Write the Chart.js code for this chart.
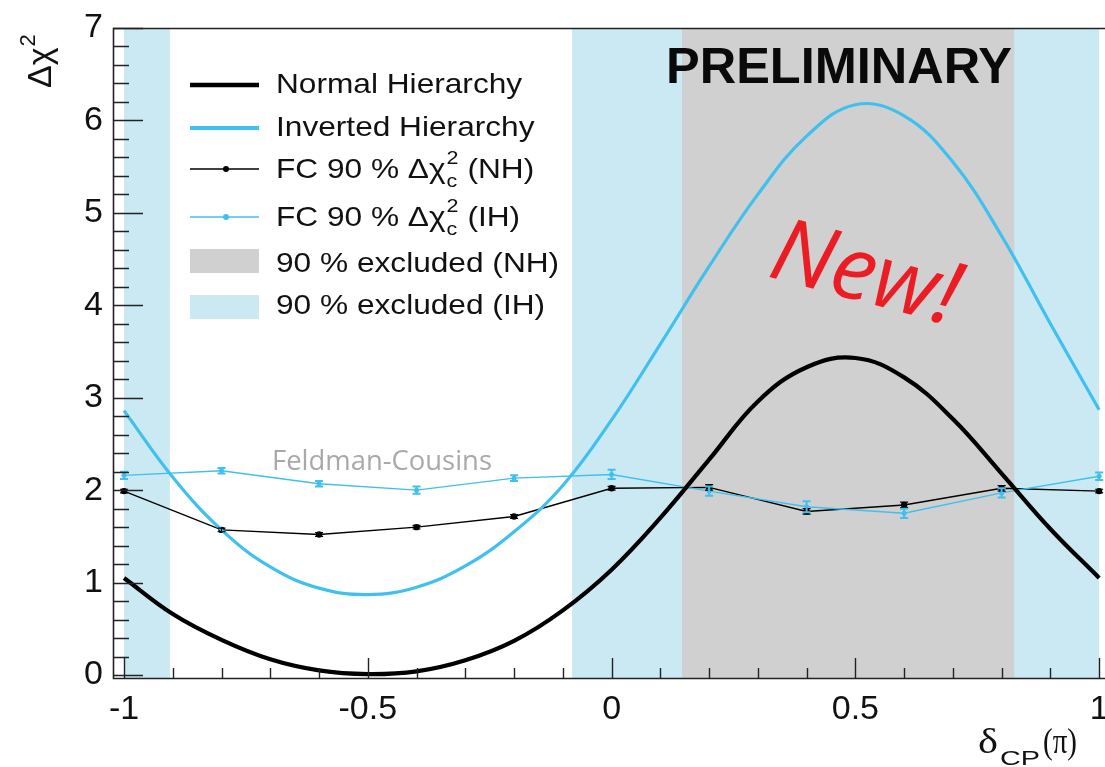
<!DOCTYPE html>
<html><head><meta charset="utf-8">
<script src="https://cdn.jsdelivr.net/npm/chart.js@4.4.1/dist/chart.umd.min.js"></script>
<style>html,body{margin:0;padding:0;background:#fff;overflow:hidden}#wrap{width:1105px;height:767px;position:relative}</style>
</head><body><div id="wrap"><canvas id="c" width="1105" height="767"></canvas></div>
<script>
// ---- data ----
const curveX  = [-1,-0.9,-0.8,-0.7,-0.6,-0.5,-0.4,-0.3,-0.2,-0.1,0,0.1,0.2,0.3,0.4,0.5,0.6,0.7,0.8,0.9,1];
const nhCurve = [1.05,0.66,0.38,0.17,0.05,0.01,0.04,0.16,0.37,0.70,1.14,1.70,2.33,2.96,3.33,3.43,3.22,2.77,2.18,1.58,1.05];
const ihCurve = [2.86,2.14,1.57,1.17,0.94,0.87,0.95,1.18,1.55,2.05,2.76,3.58,4.42,5.20,5.83,6.17,6.05,5.55,4.75,3.80,2.87];
const fcX     = [-1,-0.8,-0.6,-0.4,-0.2,0,0.2,0.4,0.6,0.8,1];
const fcNH    = [1.99,1.57,1.52,1.60,1.715,2.02,2.03,1.77,1.84,2.02,1.99];
const fcNHErr = [0.02,0.02,0.02,0.02,0.02,0.02,0.03,0.03,0.03,0.03,0.02];
const fcIH    = [2.16,2.21,2.07,2.00,2.13,2.17,1.99,1.82,1.75,1.97,2.15];
const fcIHErr = [0.04,0.03,0.03,0.04,0.03,0.05,0.05,0.06,0.05,0.05,0.04];
const ihExcluded = [[-1,-0.906],[-0.081,1.0]];
const nhExcluded = [[0.1446,0.826]];
const xTicks = [-1,-0.5,0,0.5,1];
const xTickLabels = ['-1','-0.5','0','0.5','1'];
const yTicks = [0,1,2,3,4,5,6,7];
const yTickLabels = ['0','1','2','3','4','5','6','7'];
const legendLabels = ['Normal Hierarchy','Inverted Hierarchy','FC 90 % \u0394\u03c7','FC 90 % \u0394\u03c7','90 % excluded (NH)','90 % excluded (IH)'];
const legendSuffix = ['','',' (NH)',' (IH)','',''];

const NH_COL = '#000000';
const IH_COL = '#3fc0ee';
const IH_BAND = '#cbe9f3';
const NH_BAND = '#d0d0d0';
const SANS = '"Liberation Sans", Arial, sans-serif';
const SERIF = '"Liberation Serif", "Times New Roman", serif';

function pts(xs, ys){ return xs.map((x,i)=>({x:x, y:ys[i]})); }

function hText(ctx, s, x, y, font, color, sx){
  ctx.save(); ctx.font = font; ctx.fillStyle = color; ctx.textAlign='left'; ctx.textBaseline='alphabetic';
  ctx.translate(x, y); ctx.scale(sx, 1); ctx.fillText(s, 0, 0);
  const w = ctx.measureText(s).width * sx; ctx.restore(); return w;
}
function fitText(ctx, s, x, y, font, color, target){
  ctx.save(); ctx.font = font; const w = ctx.measureText(s).width; ctx.restore();
  return hText(ctx, s, x, y, font, color, target / w);
}

const decor = {
  id: 'decor',
  beforeDatasetsDraw(chart){
    const {ctx, chartArea:a, scales:{x, y}} = chart;
    ctx.save();
    ctx.beginPath(); ctx.rect(a.left, a.top, a.right-a.left, a.bottom-a.top); ctx.clip();
    ctx.fillStyle = IH_BAND;
    ihExcluded.forEach(b=>{ const x0=x.getPixelForValue(b[0]), x1=x.getPixelForValue(b[1]); ctx.fillRect(x0, a.top, x1-x0, a.bottom-a.top); });
    ctx.fillStyle = NH_BAND;
    nhExcluded.forEach(b=>{ const x0=x.getPixelForValue(b[0]), x1=x.getPixelForValue(b[1]); ctx.fillRect(x0, a.top, x1-x0, a.bottom-a.top); });
    ctx.restore();
    fitText(ctx, 'PRELIMINARY', 666, 83, 'bold 50px '+SANS, '#0a0a0a', 346);
    fitText(ctx, 'Feldman-Cousins', 272, 470, '27px "Open Sans", sans-serif', '#a9a9a9', 220);
  },
  afterDatasetsDraw(chart){
    const {ctx, chartArea:a, scales:{x, y}} = chart;
    ctx.save();
    const bars = (vals, errs, col, w) => {
      ctx.strokeStyle = col; ctx.lineWidth = w;
      fcX.forEach((xv,i)=>{
        const px = x.getPixelForValue(xv), y0 = y.getPixelForValue(vals[i]-errs[i]), y1 = y.getPixelForValue(vals[i]+errs[i]);
        ctx.beginPath(); ctx.moveTo(px, y0); ctx.lineTo(px, y1);
        ctx.moveTo(px-4, y0); ctx.lineTo(px+4, y0); ctx.moveTo(px-4, y1); ctx.lineTo(px+4, y1); ctx.stroke();
      });
    };
    bars(fcNH, fcNHErr, NH_COL, 1.2);
    bars(fcIH, fcIHErr, IH_COL, 2);

    // frame
    ctx.strokeStyle = '#222'; ctx.lineWidth = 1.6;
    ctx.beginPath();
    ctx.moveTo(1105, a.top+0.5); ctx.lineTo(a.left+0.5, a.top+0.5); ctx.lineTo(a.left+0.5, a.bottom-0.5); ctx.lineTo(1105, a.bottom-0.5);
    ctx.stroke();
    // inward ticks
    ctx.lineWidth = 1.4; ctx.beginPath();
    for (let k = 0; k <= 35; k++) {
      const v = k*0.2, py = Math.round(y.getPixelForValue(v)) + 0.5;
      const len = (k % 5 === 0) ? 30 : 16;
      ctx.moveTo(a.left, py); ctx.lineTo(a.left+len, py);
    }
    for (let k = -10; k <= 10; k++) {
      const v = k*0.1, px = Math.round(x.getPixelForValue(v)) + 0.5;
      const len = (k % 5 === 0) ? 21 : 11;
      ctx.moveTo(px, a.bottom); ctx.lineTo(px, a.bottom-len);
    }
    ctx.stroke();

    // legend
    const lx0 = 190, lx1 = 259, tx = 276, sx = 1.13;
    const rows = [85, 128, 169, 217, 261, 306];
    const base = [93, 136, 178, 226, 272, 314];
    ctx.lineCap = 'butt';
    ctx.strokeStyle = NH_COL; ctx.lineWidth = 4.5;
    ctx.beginPath(); ctx.moveTo(lx0, rows[0]); ctx.lineTo(lx1, rows[0]); ctx.stroke();
    ctx.strokeStyle = IH_COL; ctx.lineWidth = 4;
    ctx.beginPath(); ctx.moveTo(lx0, rows[1]); ctx.lineTo(lx1, rows[1]); ctx.stroke();
    ctx.strokeStyle = NH_COL; ctx.lineWidth = 1.3;
    ctx.beginPath(); ctx.moveTo(lx0, rows[2]); ctx.lineTo(lx1, rows[2]); ctx.stroke();
    ctx.fillStyle = NH_COL; ctx.beginPath(); ctx.arc(226, rows[2], 3, 0, Math.PI*2); ctx.fill();
    ctx.strokeStyle = IH_COL; ctx.lineWidth = 1.3;
    ctx.beginPath(); ctx.moveTo(lx0, rows[3]); ctx.lineTo(lx1, rows[3]); ctx.stroke();
    ctx.fillStyle = IH_COL; ctx.beginPath(); ctx.arc(226, rows[3], 3, 0, Math.PI*2); ctx.fill();
    ctx.fillStyle = NH_BAND; ctx.fillRect(lx0, 249, lx1-lx0, 24);
    ctx.fillStyle = IH_BAND; ctx.fillRect(lx0, 295, lx1-lx0, 24);
    const LF = '28px '+SANS;
    legendLabels.forEach((s,i)=>{
      let w = hText(ctx, s, tx, base[i], LF, '#111', sx);
      if (legendSuffix[i]) {
        hText(ctx, '2', tx+w+1, base[i]-14, '19px '+SANS, '#111', sx);
        hText(ctx, 'c', tx+w+1, base[i]+9, '19px '+SANS, '#111', sx);
        hText(ctx, legendSuffix[i], tx+w+13, base[i], LF, '#111', sx);
      }
    });

    // y title
    ctx.save();
    ctx.translate(51, 88); ctx.rotate(-Math.PI/2);
    ctx.font = '34px '+SANS; ctx.fillStyle = '#111'; ctx.textBaseline='alphabetic';
    ctx.fillText('\u0394\u03c7', 0, 0);
    const wy = ctx.measureText('\u0394\u03c7').width;
    ctx.font = '22px '+SANS; ctx.fillText('2', wy+1, -16);
    ctx.restore();

    // x title
    fitText(ctx, '\u03b4', 978, 753, '36px '+SERIF, '#111', 20);
    fitText(ctx, 'CP', 1000, 765, '21px '+SANS, '#111', 40);
    fitText(ctx, '(\u03c0)', 1043, 753, '36px '+SERIF, '#111', 34);

    // New!
    ctx.save();
    ctx.translate(766, 276); ctx.rotate(15*Math.PI/180);
    ctx.font = 'italic 88px "Open Sans", sans-serif'; ctx.fillStyle = '#ec1c24';
    ctx.fillText('New!', 0, 0);
    ctx.restore();
    ctx.restore();
  }
};

new Chart(document.getElementById('c'), {
  type: 'line',
  data: { datasets: [
    { label:'Normal Hierarchy', data: pts(curveX, nhCurve), borderColor: NH_COL, borderWidth: 4.2, pointRadius: 0, tension: 0.4, fill:false },
    { label:'Inverted Hierarchy', data: pts(curveX, ihCurve), borderColor: IH_COL, borderWidth: 3.2, pointRadius: 0, tension: 0.4, fill:false },
    { label:'FC IH', data: pts(fcX, fcIH), borderColor: IH_COL, backgroundColor: IH_COL, borderWidth: 1.4, pointRadius: 2.5, pointBorderWidth: 0, tension: 0, fill:false },
    { label:'FC NH', data: pts(fcX, fcNH), borderColor: NH_COL, backgroundColor: NH_COL, borderWidth: 1.4, pointRadius: 3.2, pointBorderWidth: 0, tension: 0, fill:false }
  ]},
  options: {
    responsive: false, animation: false, devicePixelRatio: 1,
    layout: { autoPadding: false, padding: { top: 28, left: 0, right: 0, bottom: 0 } },
    plugins: { legend: { display: false }, tooltip: { enabled: false } },
    scales: {
      x: { type: 'linear', min: -1.0226, max: 1.012,
        grid: { display: false }, border: { display: false },
        afterBuildTicks: s => { s.ticks = xTicks.map(v => ({ value: v })); },
        afterFit: s => { s.height = 88; s.paddingLeft = 0; s.paddingRight = 0; },
        ticks: { autoSkip: false, maxRotation: 0, padding: 2, color: '#111',
          font: { family: 'Liberation Sans', size: 34 },
          callback: (v, i) => xTickLabels[i] } },
      y: { type: 'linear', min: -0.043, max: 7,
        grid: { display: false }, border: { display: false },
        afterBuildTicks: s => { s.ticks = yTicks.map(v => ({ value: v })); },
        afterFit: s => { s.width = 113; s.paddingTop = 0; s.paddingBottom = 0; },
        ticks: { autoSkip: false, padding: 2, color: '#111',
          font: { family: 'Liberation Sans', size: 34 },
          callback: (v, i) => yTickLabels[i] } }
    }
  },
  plugins: [decor]
});
</script></body></html>
